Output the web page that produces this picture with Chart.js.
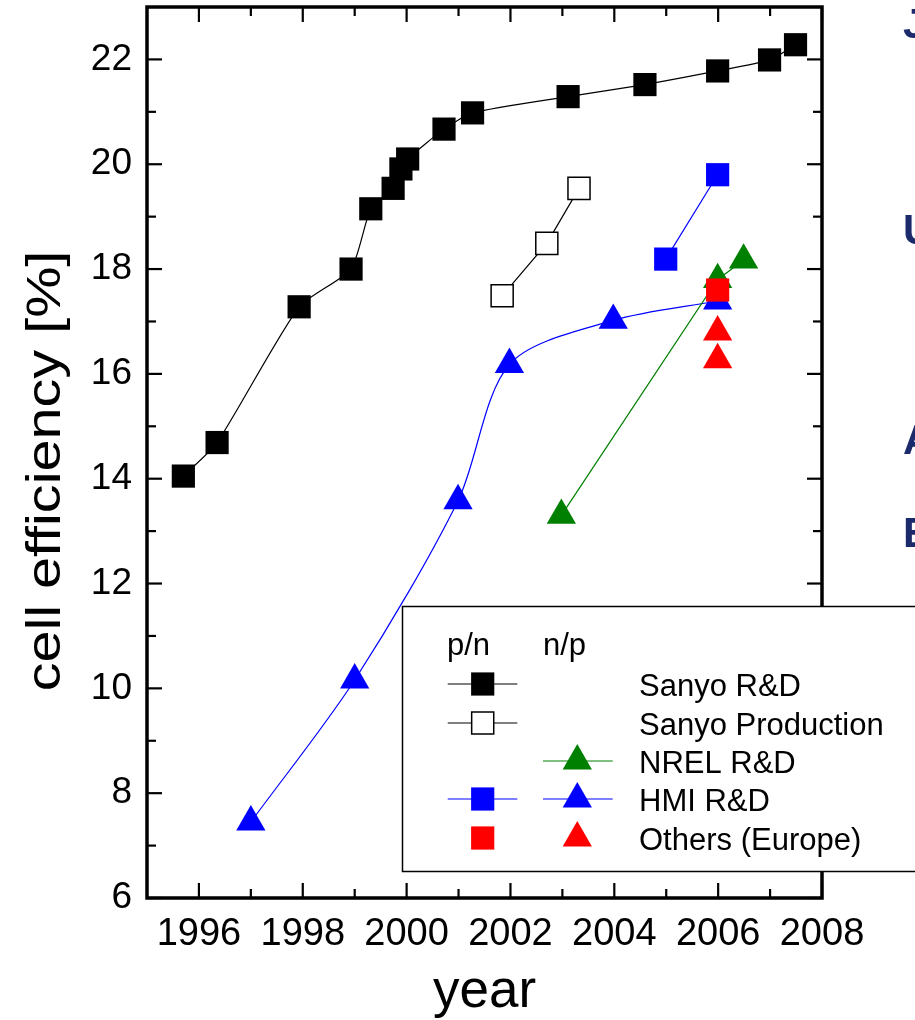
<!DOCTYPE html>
<html>
<head>
<meta charset="utf-8">
<script src="https://cdn.jsdelivr.net/npm/chart.js@4"></script>
<style>
html,body{margin:0;padding:0;background:#fff;}
#wrap{width:915px;height:1020px;position:relative;overflow:hidden;}
</style>
</head>
<body>
<div id="wrap"><canvas id="c" width="915" height="1020"></canvas></div>
<script>
// ---------- data ----------
const xTicks = [1996, 1998, 2000, 2002, 2004, 2006, 2008];
const xMinorTicks = [1997, 1999, 2001, 2003, 2005, 2007];
const yTicks = [6, 8, 10, 12, 14, 16, 18, 20, 22];
const yMinorTicks = [7, 9, 11, 13, 15, 17, 19, 21];

const sanyoRDYears = [1995.70, 1996.35, 1997.93, 1998.93, 1999.31, 1999.74, 1999.89, 2000.02, 2000.72, 2001.27, 2003.11, 2004.59, 2005.99, 2006.99, 2007.49];
const sanyoRDEff   = [14.05, 14.69, 17.28, 18.00, 19.15, 19.54, 19.91, 20.10, 20.67, 20.98, 21.29, 21.52, 21.78, 21.99, 22.28];

const sanyoProdYears = [2001.84, 2002.70, 2003.32];
const sanyoProdEff   = [17.49, 18.49, 19.54];

const nrelYears = [2002.98, 2005.99, 2006.49];
const nrelEff   = [13.30, 17.80, 18.17];

const hmiPNYears = [2004.99, 2005.99];
const hmiPNEff   = [18.19, 19.80];

const hmiNPYears = [1997.00, 1999.00, 2000.99, 2001.98, 2003.98, 2005.99];
const hmiNPEff   = [7.45, 10.16, 13.58, 16.18, 17.02, 17.39];

const othersPNYears = [2005.99];
const othersPNEff   = [17.60];

const othersNPYears = [2005.99, 2005.99];
const othersNPEff   = [16.80, 16.27];

const legendHeaders = ['p/n', 'n/p'];
const legendLabels = ['Sanyo R&D', 'Sanyo Production', 'NREL R&D', 'HMI R&D', 'Others (Europe)'];
const xTitle = 'year';
const yTitle = 'cell efficiency [%]';
const sideLetters = ['J', 'U', 'A', 'E'];

// ---------- helpers ----------
const pts = (xs, ys) => xs.map((v, i) => ({x: v, y: ys[i]}));
const FONT = '"Liberation Sans", Arial, Helvetica, sans-serif';
const SQ_R = 16.4;
const TRI_R = 16.9;

function drawSquare(ctx, x, y, r, fill, stroke, bw) {
  const s = Math.SQRT1_2 * r;
  ctx.beginPath();
  ctx.rect(x - s, y - s, 2 * s, 2 * s);
  ctx.fillStyle = fill; ctx.fill();
  if (bw > 0) { ctx.lineWidth = bw; ctx.strokeStyle = stroke; ctx.stroke(); }
}
function drawTriangle(ctx, x, y, r, fill) {
  const a = 2 * Math.PI / 3;
  ctx.beginPath();
  ctx.moveTo(x, y - r);
  ctx.lineTo(x + Math.sin(a) * r, y - Math.cos(a) * r);
  ctx.lineTo(x + Math.sin(2 * a) * r, y - Math.cos(2 * a) * r);
  ctx.closePath();
  ctx.fillStyle = fill; ctx.fill();
}

// ---------- plugins ----------
const framePlugin = {
  id: 'frame',
  afterDatasetsDraw(chart) {
    const {ctx, chartArea: a, scales: {x, y}} = chart;
    ctx.save();
    ctx.strokeStyle = '#000';
    ctx.lineWidth = 2.2;
    const seg = (x1, y1, x2, y2) => { ctx.beginPath(); ctx.moveTo(x1, y1); ctx.lineTo(x2, y2); ctx.stroke(); };
    xTicks.forEach(v => { const p = x.getPixelForValue(v); seg(p, a.bottom, p, a.bottom - 15); seg(p, a.top, p, a.top + 15); });
    xMinorTicks.forEach(v => { const p = x.getPixelForValue(v); seg(p, a.bottom, p, a.bottom - 9); seg(p, a.top, p, a.top + 9); });
    yTicks.forEach(v => { const p = y.getPixelForValue(v); seg(a.left, p, a.left + 15, p); seg(a.right, p, a.right - 15, p); });
    yMinorTicks.forEach(v => { const p = y.getPixelForValue(v); seg(a.left, p, a.left + 9, p); seg(a.right, p, a.right - 9, p); });
    ctx.lineWidth = 3.5;
    ctx.strokeRect(a.left, a.top, a.right - a.left, a.bottom - a.top);
    ctx.restore();
  }
};

const decoPlugin = {
  id: 'deco',
  afterDraw(chart) {
    const {ctx, chartArea: a} = chart;
    ctx.save();
    // legend box
    const bx = 402, by = 606, bh = 265;
    ctx.fillStyle = '#fff';
    ctx.fillRect(bx, by, 600, bh);
    ctx.strokeStyle = '#000';
    ctx.lineWidth = 1.5;
    ctx.strokeRect(bx + 0.5, by + 0.5, 600, bh);

    ctx.fillStyle = '#000';
    ctx.font = '31px ' + FONT;
    ctx.textAlign = 'left';
    ctx.textBaseline = 'alphabetic';
    ctx.fillText(legendHeaders[0], 447, 655);
    ctx.fillText(legendHeaders[1], 543, 655);

    const rowY = [684, 723, 761, 799, 838];
    const pnX = 482.7, npX = 577.3;
    const pnL = [447.7, 517.3], npL = [543, 612.7];
    const entries = [
      {pn: {fill: '#000', stroke: '#000', bw: 0, line: '#000'}, np: null},
      {pn: {fill: '#fff', stroke: '#000', bw: 1.5, line: '#000', open: true}, np: null},
      {pn: null, np: {fill: '#008000', line: '#008000'}},
      {pn: {fill: '#0000ff', bw: 0, line: '#0000ff'}, np: {fill: '#0000ff', line: '#0000ff'}},
      {pn: {fill: '#ff0000', bw: 0, line: null}, np: {fill: '#ff0000', line: null}}
    ];
    entries.forEach((e, i) => {
      const yy = rowY[i];
      if (e.pn) {
        if (e.pn.line) {
          ctx.strokeStyle = e.pn.line; ctx.lineWidth = 1.2;
          ctx.beginPath(); ctx.moveTo(pnL[0], yy); ctx.lineTo(pnL[1], yy); ctx.stroke();
        }
        drawSquare(ctx, pnX, yy, e.pn.open ? 15.6 : SQ_R, e.pn.fill, e.pn.stroke || e.pn.fill, e.pn.bw);
      }
      if (e.np) {
        if (e.np.line) {
          ctx.strokeStyle = e.np.line; ctx.lineWidth = 1.2;
          ctx.beginPath(); ctx.moveTo(npL[0], yy); ctx.lineTo(npL[1], yy); ctx.stroke();
        }
        drawTriangle(ctx, npX, yy, TRI_R, e.np.fill);
      }
      ctx.fillStyle = '#000';
      ctx.fillText(legendLabels[i], 639, yy + 11.5);
    });

    // axis titles
    ctx.fillStyle = '#000';
    ctx.textAlign = 'center';
    ctx.font = '53px ' + FONT;
    ctx.fillText(xTitle, (a.left + a.right) / 2, 1007);
    ctx.save();
    ctx.translate(60, 471);
    ctx.rotate(-Math.PI / 2);
    ctx.scale(1.2, 1);
    ctx.font = '48px ' + FONT;
    ctx.fillText(yTitle, 0, 0);
    ctx.restore();

    // cut-off letters at the right edge
    ctx.fillStyle = '#1b2a6b';
    ctx.textAlign = 'left';
    ctx.font = 'bold 42px ' + FONT;
    const ly = [38, 244, 454, 547];
    sideLetters.forEach((t, i) => ctx.fillText(t, 903, ly[i]));
    ctx.restore();
  }
};

// ---------- chart ----------
const lineW = 1.2;
new Chart(document.getElementById('c'), {
  type: 'scatter',
  data: {
    datasets: [
      {label: 'Others (Europe) p/n', data: pts(othersPNYears, othersPNEff), showLine: false,
       pointStyle: 'rect', pointRadius: SQ_R, pointBackgroundColor: '#ff0000', pointBorderWidth: 0, order: 0},
      {label: 'Others (Europe) n/p', data: pts(othersNPYears, othersNPEff), showLine: false,
       pointStyle: 'triangle', pointRadius: TRI_R, pointBackgroundColor: '#ff0000', pointBorderWidth: 0, order: 1},
      {label: 'HMI R&D p/n', data: pts(hmiPNYears, hmiPNEff), showLine: true, borderColor: '#0000ff', borderWidth: lineW,
       pointStyle: 'rect', pointRadius: SQ_R, pointBackgroundColor: '#0000ff', pointBorderWidth: 0, order: 2},
      {label: 'NREL R&D', data: pts(nrelYears, nrelEff), showLine: true, borderColor: '#008000', borderWidth: lineW,
       pointStyle: 'triangle', pointRadius: TRI_R, pointBackgroundColor: '#008000', pointBorderWidth: 0, order: 4},
      {label: 'HMI R&D n/p', data: pts(hmiNPYears, hmiNPEff), showLine: true, borderColor: '#0000ff', borderWidth: lineW,
       tension: 0.3,
       pointStyle: 'triangle', pointRadius: TRI_R, pointBackgroundColor: '#0000ff', pointBorderWidth: 0, order: 5},
      {label: 'Sanyo Production', data: pts(sanyoProdYears, sanyoProdEff), showLine: true, borderColor: '#000', borderWidth: lineW,
       pointStyle: 'rect', pointRadius: 15.6, pointBackgroundColor: '#fff', pointBorderColor: '#000', pointBorderWidth: 1.5, order: 6},
      {label: 'Sanyo R&D', data: pts(sanyoRDYears, sanyoRDEff), showLine: true, borderColor: '#000', borderWidth: lineW,
       tension: 0.2,
       pointStyle: 'rect', pointRadius: SQ_R, pointBackgroundColor: '#000', pointBorderWidth: 0, order: 7}
    ]
  },
  options: {
    responsive: false,
    animation: false,
    events: [],
    layout: {autoPadding: false, padding: {top: 7, right: 93, left: 0, bottom: 0}},
    plugins: {legend: {display: false}, tooltip: {enabled: false}, title: {display: false}},
    elements: {point: {hoverRadius: 0}},
    scales: {
      x: {
        type: 'linear', min: 1995, max: 2008,
        afterBuildTicks: s => { s.ticks = xTicks.map(v => ({value: v})); },
        afterFit: s => { s.height = 122; s.paddingLeft = 0; s.paddingRight = 0; },
        grid: {display: false, drawTicks: false},
        border: {display: false},
        ticks: {callback: v => String(v), color: '#000', font: {size: 38, family: FONT}, padding: 14, maxRotation: 0, autoSkip: false}
      },
      y: {
        type: 'linear', min: 6, max: 23,
        afterBuildTicks: s => { s.ticks = yTicks.map(v => ({value: v})); },
        afterFit: s => { s.width = 147; s.paddingTop = 0; s.paddingBottom = 0; },
        grid: {display: false, drawTicks: false},
        border: {display: false},
        ticks: {callback: v => String(v), color: '#000', font: {size: 37, family: FONT}, padding: 15, autoSkip: false}
      }
    }
  },
  plugins: [framePlugin, decoPlugin]
});
</script>
</body>
</html>
